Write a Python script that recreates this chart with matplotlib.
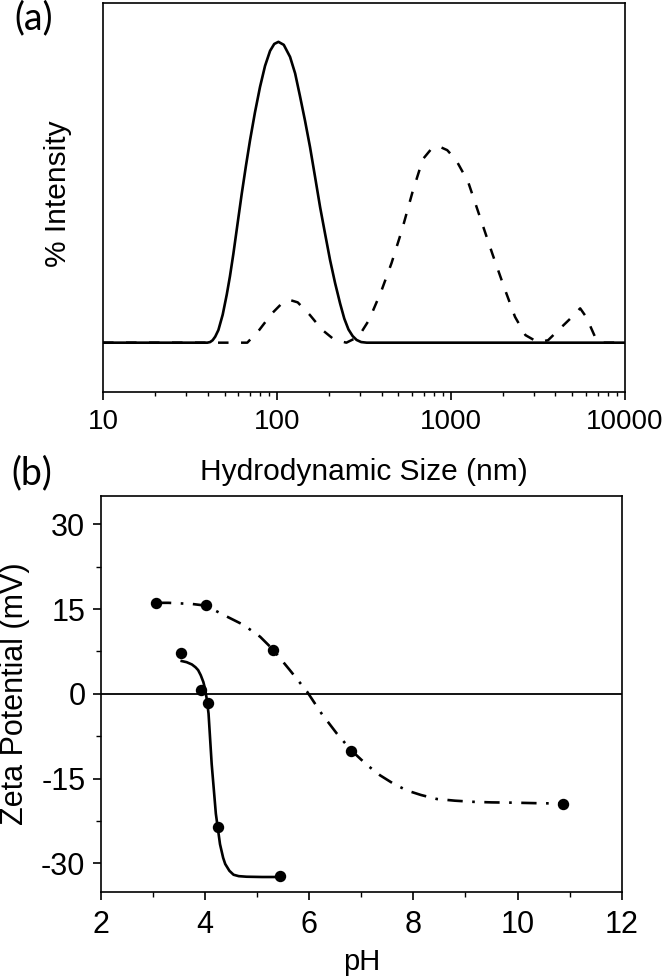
import numpy as np
import matplotlib
matplotlib.use("Agg")
import matplotlib.pyplot as plt
from matplotlib.ticker import LogLocator, NullFormatter, MultipleLocator, FixedLocator

plt.rcParams['font.family'] = ['Liberation Sans', 'DejaVu Sans']
plt.rcParams['axes.unicode_minus'] = False

# ---- (a) DLS size distributions ----
size_solid = [10, 39.8, 41.3, 42.7, 44.2, 46.1, 48.8, 51.5, 53.7, 56.2, 59.4, 62.8,
              66.4, 70.1, 74.8, 80.0, 85.5, 91.4, 96.6, 102.1, 109.6, 119.1, 127.4,
              135.8, 145.2, 155.2, 166.0, 177.4, 189.7, 202.3, 216.3, 231.2, 244.3,
              258.2, 272.9, 287.7, 305.5, 328.9, 10000]
int_solid = [0, 0, 0.2, 0.8, 2.0, 4.2, 9.3, 16.0, 22.0, 29.5, 39.5, 49.5,
             58.8, 67.3, 76.5, 85.0, 92.0, 97.0, 99.3, 100.0, 99.0, 95.0, 89.5,
             82.0, 73.8, 65.0, 55.0, 45.0, 36.0, 27.5, 19.8, 13.0, 8.0,
             4.4, 2.2, 0.9, 0.2, 0, 0]

size_dash = [10, 67.6, 79.4, 93.3, 109.6, 120.2, 131.8, 154.9, 182.0, 213.8, 251.2,
             295.1, 338.8, 398.1, 457.1, 524.8, 602.6, 691.8, 776.2, 851.1, 955,
             1072, 1259, 1479, 1738, 2042, 2344, 2692, 3162, 3631, 4365, 4898,
             5559, 6026, 6918, 7413, 10000]
int_dash = [0, 0, 4.3, 9.6, 13.7, 14.1, 13.4, 9.2, 4.3, 1.0, 0,
            2.0, 7.5, 17.0, 26.5, 37.5, 50.0, 61.0, 64.5, 65.3, 64.0,
            60.8, 53.5, 41.5, 29.5, 18.0, 8.6, 2.5, 0.2, 0.8, 5.3, 8.1,
            11.4, 8.5, 0.7, 0, 0]

# ---- (b) zeta potential vs pH ----
ph_a = [3.06, 4.02, 5.30, 6.81, 10.87]
zeta_a = [16.05, 15.7, 7.76, -10.05, -19.4]
ph_a_fit = [3.06, 3.30, 3.52, 3.75, 4.02, 4.35, 4.74, 5.06, 5.30, 5.63, 5.96, 6.24,
            6.53, 6.81, 7.10, 7.36, 7.62, 7.88, 8.15, 8.45, 8.80, 9.15, 9.50, 9.92,
            10.40, 10.87]
zeta_a_fit = [16.1, 16.1, 16.0, 15.9, 15.6, 14.0, 12.2, 10.1, 7.9, 4.2, 0.4, -3.5,
              -7.0, -10.0, -12.5, -14.4, -15.9, -17.1, -17.9, -18.6, -18.9, -19.1,
              -19.2, -19.25, -19.35, -19.4]

ph_b = [3.54, 3.92, 4.05, 4.26, 5.44]
zeta_b = [7.3, 0.66, -1.6, -23.6, -32.2]
ph_b_fit = [3.555, 3.65, 3.75, 3.82, 3.87, 3.92, 3.97, 4.00, 4.03, 4.07, 4.13, 4.21,
            4.29, 4.35, 4.39, 4.47, 4.55, 4.65, 4.80, 5.10, 5.44]
zeta_b_fit = [5.8, 5.6, 5.2, 4.7, 4.2, 3.3, 2.1, 1.0, -0.6, -3.5, -12.4, -21.2,
              -26.6, -29.0, -30.1, -31.3, -32.0, -32.25, -32.35, -32.4, -32.4]

fig = plt.figure(figsize=(6.66, 9.8), dpi=100)
ax1 = fig.add_axes([0.1547, 0.6003, 0.783, 0.3963])
ax2 = fig.add_axes([0.1512, 0.0901, 0.7823, 0.4038])

# top panel
ax1.plot(size_solid, int_solid, color='black', lw=1.9, zorder=3)
ax1.plot(size_dash, int_dash, color='black', lw=1.8, linestyle=(0, (4.2, 5.0)), zorder=2)
ax1.set_xscale('log')
ax1.set_xlim(10, 10000)
ax1.set_ylim(-16.3, 112.8)
ax1.set_yticks([])
ax1.xaxis.set_minor_locator(LogLocator(base=10, subs=np.arange(2, 10), numticks=20))
ax1.xaxis.set_minor_formatter(NullFormatter())
ax1.set_xticks([10, 100, 1000, 10000])
ax1.set_xticklabels(['10', '100', '1000', '10000'])
ax1.tick_params(axis='x', which='major', direction='out', length=6, width=1.2,
                labelsize=20, pad=6.5)
ax1.tick_params(axis='x', which='minor', direction='out', length=3, width=1.0)
ax1.set_xlabel('Hydrodynamic Size (nm)', fontsize=21.5)
ax1.xaxis.set_label_coords(0.5, -0.171)
ax1.set_ylabel('% Intensity', fontsize=21.5)
ax1.yaxis.set_label_coords(-0.059, 0.51)
for s in ax1.spines.values():
    s.set_linewidth(1.2)

# bottom panel
ax2.axhline(0, color='black', lw=1.3, zorder=1)
ax2.plot(ph_a_fit, zeta_a_fit, color='black', lw=1.9,
         linestyle=(0, (5.8, 3.6, 1.0, 3.6)), zorder=2)
ax2.plot(ph_b_fit, zeta_b_fit, color='black', lw=1.9, zorder=2)
ax2.plot(ph_a, zeta_a, 'o', color='black', ms=7.2, zorder=3)
ax2.plot(ph_b, zeta_b, 'o', color='black', ms=7.2, zorder=3)
ax2.set_xlim(2, 12)
ax2.set_ylim(-35, 35)
ax2.set_xticks([2, 4, 6, 8, 10, 12])
ax2.xaxis.set_minor_locator(MultipleLocator(1))
ax2.set_yticks([-30, -15, 0, 15, 30])
ax2.yaxis.set_minor_locator(FixedLocator([-22.5, -7.5, 7.5, 22.5]))
ax2.tick_params(axis='both', which='major', direction='out', length=6, width=1.2,
                labelsize=22)
ax2.tick_params(axis='x', which='major', pad=7)
ax2.tick_params(axis='y', which='major', pad=5)
ax2.tick_params(axis='both', which='minor', direction='out', length=3.5, width=1.0)
ax2.set_xlabel('pH', fontsize=21)
ax2.xaxis.set_label_coords(0.5, -0.143)
ax2.set_ylabel('Zeta Potential (mV)', fontsize=22)
ax2.yaxis.set_label_coords(-0.136, 0.5)
for s in ax2.spines.values():
    s.set_linewidth(1.2)

fig.text(0.051, 0.981, '(a)', fontsize=27, family=['Lato', 'DejaVu Sans'],
         ha='center', va='center')
fig.text(0.048, 0.517, '(b)', fontsize=27, family=['Lato', 'DejaVu Sans'],
         ha='center', va='center')

fig.savefig('out.png', dpi=100)
